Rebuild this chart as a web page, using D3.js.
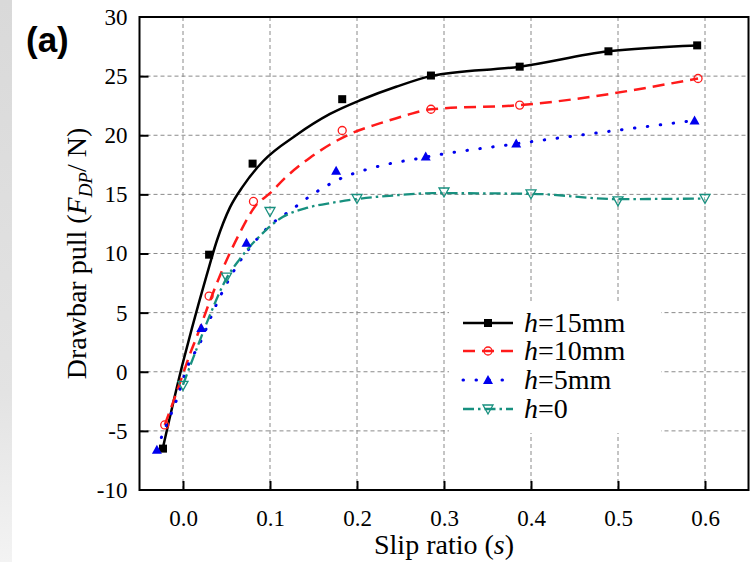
<!DOCTYPE html>
<html>
<head>
<meta charset="utf-8">
<script src="https://cdn.jsdelivr.net/npm/d3@7/dist/d3.min.js"></script>
<style>
  html, body { margin: 0; padding: 0; background: #fff; }
  svg { display: block; }
</style>
</head>
<body>
<svg id="chart" width="756" height="562"></svg>
<script>
// ---------------- data ----------------
const xTicks = [0.0, 0.1, 0.2, 0.3, 0.4, 0.5, 0.6];
const yTicks = [-10, -5, 0, 5, 10, 15, 20, 25, 30];

const seriesNames = ["15mm", "10mm", "5mm", "0"];

// measured points
const slip15 = [-0.023, 0.030, 0.080, 0.183, 0.285, 0.387, 0.489, 0.591];
const pull15 = [-6.5, 9.9, 17.6, 23.05, 25.05, 25.8, 27.1, 27.6];
const slip10 = [-0.021, 0.030, 0.081, 0.183, 0.285, 0.387, 0.592];
const pull10 = [-4.5, 6.4, 14.4, 20.4, 22.2, 22.55, 24.8];
const slip5 = [-0.030, 0.021, 0.073, 0.176, 0.279, 0.383, 0.588];
const pull5 = [-6.6, 3.7, 10.9, 17.0, 18.2, 19.3, 21.25];
const slip0 = [0.000, 0.050, 0.100, 0.200, 0.300, 0.400, 0.500, 0.600];
const pull0 = [-1.15, 8.0, 13.55, 14.65, 15.2, 15.05, 14.45, 14.65];

// fitted curves (traced)
const fitSlip15 = [-0.023, 0.0, 0.010, 0.027, 0.039, 0.054, 0.069, 0.092, 0.130, 0.169, 0.205, 0.245, 0.285, 0.387, 0.489, 0.591];
const fitPull15 = [-6.4, 0.8, 3.6, 8.1, 11.1, 13.9, 15.7, 17.8, 20.0, 21.8, 23.0, 24.1, 25.0, 25.8, 27.1, 27.6];
const fitSlip10 = [-0.021, -0.011, 0.0, 0.008, 0.016, 0.030, 0.044, 0.065, 0.083, 0.100, 0.119, 0.146, 0.171, 0.195, 0.226, 0.257, 0.285, 0.387, 0.592];
const fitPull10 = [-4.5, -2.5, -0.2, 1.5, 3.0, 5.8, 8.4, 11.7, 14.0, 15.1, 16.5, 18.1, 19.3, 20.2, 21.0, 21.7, 22.2, 22.55, 24.8];
const fitSlip5 = [-0.030, -0.024, -0.007, 0.004, 0.020, 0.039, 0.065, 0.077, 0.102, 0.123, 0.151, 0.167, 0.180, 0.211, 0.241, 0.268, 0.290, 0.383, 0.588];
const fitPull5 = [-6.6, -5.4, -2.3, 0.2, 2.5, 5.8, 9.3, 10.5, 12.5, 13.6, 15.1, 15.8, 16.3, 17.1, 17.65, 18.0, 18.3, 19.28, 21.25];
const fitSlip0 = [0.0, 0.016, 0.031, 0.050, 0.065, 0.077, 0.090, 0.100, 0.115, 0.142, 0.1725, 0.199, 0.241, 0.287, 0.400, 0.500, 0.600];
const fitPull0 = [-1.1, 2.0, 4.8, 7.9, 9.5, 10.6, 11.6, 12.3, 13.1, 13.85, 14.3, 14.6, 14.9, 15.1, 15.05, 14.6, 14.65];

// ---------------- layout ----------------
const svg = d3.select("#chart");
const L = 139.5, R = 748.5, T = 17, B = 490;
const x = d3.scaleLinear().domain([-0.05, 0.65]).range([L, R]);
const y = d3.scaleLinear().domain([-10, 30]).range([B, T]);

// left grey gradient strip
const defs = svg.append("defs");
const grad = defs.append("linearGradient").attr("id", "strip").attr("x1", 0).attr("y1", 0).attr("x2", 0).attr("y2", 1);
grad.append("stop").attr("offset", "0%").attr("stop-color", "#d9d9d9");
grad.append("stop").attr("offset", "70%").attr("stop-color", "#e3e3e3");
grad.append("stop").attr("offset", "100%").attr("stop-color", "#f3f3f3");
svg.append("rect").attr("x", 0).attr("y", 0).attr("width", 12).attr("height", 562).attr("fill", "url(#strip)");

// grid
const grid = svg.append("g").attr("stroke", "#8a8a8a").attr("stroke-width", 1).attr("stroke-dasharray", "4,3");
grid.selectAll("line.v").data(xTicks).join("line")
  .attr("x1", d => x(d)).attr("x2", d => x(d)).attr("y1", T).attr("y2", B);
grid.selectAll("line.h").data(yTicks.filter(d => d > -10 && d < 30)).join("line")
  .attr("x1", L).attr("x2", R).attr("y1", d => y(d)).attr("y2", d => y(d));

// series styles
const styles = [
  { color: "#000000", dash: null, width: 2.5, cap: "butt", marker: "square" },
  { color: "#ff1a1a", dash: "12,7", width: 2.5, cap: "butt", marker: "circle" },
  { color: "#0000ee", dash: "0.5,12.5", width: 3, cap: "round", marker: "triangle" },
  { color: "#17907f", dash: "11,4,2.5,4", width: 2.3, cap: "butt", marker: "triangleDown" }
];
const fits = [
  d3.zip(fitSlip15, fitPull15), d3.zip(fitSlip10, fitPull10),
  d3.zip(fitSlip5, fitPull5), d3.zip(fitSlip0, fitPull0)
];
const pts = [
  d3.zip(slip15, pull15), d3.zip(slip10, pull10),
  d3.zip(slip5, pull5), d3.zip(slip0, pull0)
];

const line = d3.line().x(d => x(d[0])).y(d => y(d[1])).curve(d3.curveMonotoneX);
const plot = svg.append("g");
fits.forEach((f, i) => {
  const s = styles[i];
  plot.append("path").attr("d", line(f)).attr("fill", "none")
    .attr("stroke", s.color).attr("stroke-width", s.width)
    .attr("stroke-dasharray", s.dash).attr("stroke-linecap", s.cap);
});

function drawMarker(g, kind, color, cx, cy) {
  if (kind === "square") {
    g.append("rect").attr("x", cx - 4).attr("y", cy - 4).attr("width", 8).attr("height", 8).attr("fill", color);
  } else if (kind === "circle") {
    g.append("circle").attr("cx", cx).attr("cy", cy).attr("r", 4).attr("fill", "none").attr("stroke", color).attr("stroke-width", 1.3);
  } else if (kind === "triangle") {
    g.append("path").attr("d", `M${cx - 5},${cy + 4}L${cx + 5},${cy + 4}L${cx},${cy - 5}Z`).attr("fill", color);
  } else {
    g.append("path").attr("d", `M${cx - 5},${cy - 4}L${cx + 5},${cy - 4}L${cx},${cy + 5}Z`).attr("fill", "none").attr("stroke", color).attr("stroke-width", 1.3);
  }
}
pts.forEach((p, i) => {
  p.forEach(d => drawMarker(plot, styles[i].marker, styles[i].color, x(d[0]), y(d[1])));
});

// legend
const lg = svg.append("g");
lg.append("rect").attr("x", 449).attr("y", 304).attr("width", 212).attr("height", 129).attr("fill", "#fff");
const legY = [323, 351, 380, 409];
styles.forEach((s, i) => {
  const yy = legY[i];
  lg.append("line").attr("x1", 463).attr("x2", 513).attr("y1", yy).attr("y2", yy)
    .attr("stroke", s.color).attr("stroke-width", s.width)
    .attr("stroke-dasharray", s.dash).attr("stroke-linecap", s.cap);
  drawMarker(lg, s.marker, s.color, 488, yy);
  const t = lg.append("text").attr("x", 524).attr("y", yy + 9)
    .attr("font-family", "Liberation Serif, Times New Roman, serif").attr("font-size", 28).attr("fill", "#000");
  t.append("tspan").attr("font-style", "italic").text("h");
  t.append("tspan").text("=" + seriesNames[i]);
});

// axes
const xAxis = d3.axisBottom(x).tickValues(xTicks).tickFormat(d3.format(".1f")).tickSizeInner(-9).tickSizeOuter(0).tickPadding(20);
const yAxis = d3.axisLeft(y).tickValues(yTicks).tickFormat(d => String(d)).tickSizeInner(-9).tickSizeOuter(0).tickPadding(12);
const gx = svg.append("g").attr("transform", `translate(0,${B})`).call(xAxis);
const gy = svg.append("g").attr("transform", `translate(${L},0)`).call(yAxis);
[gx, gy].forEach(g => {
  g.select(".domain").remove();
  g.selectAll(".tick line").attr("stroke", "#000").attr("stroke-width", 2);
  g.selectAll(".tick text").attr("font-family", "Liberation Serif, Times New Roman, serif").attr("font-size", 23).attr("fill", "#000");
});
gy.selectAll(".tick line").filter(d => d === -10 || d === 30).remove();

// frame
svg.append("rect").attr("x", L).attr("y", T).attr("width", R - L).attr("height", B - T)
  .attr("fill", "none").attr("stroke", "#000").attr("stroke-width", 2);

// axis titles
svg.append("text").attr("x", (L + R) / 2).attr("y", 554).attr("text-anchor", "middle")
  .attr("font-family", "Liberation Serif, Times New Roman, serif").attr("font-size", 28)
  .html('Slip ratio (<tspan font-style="italic">s</tspan>)');
const yt = svg.append("text").attr("transform", `translate(86,${(T + B) / 2}) rotate(-90)`).attr("text-anchor", "middle")
  .attr("font-family", "Liberation Serif, Times New Roman, serif").attr("font-size", 28);
yt.append("tspan").text("Drawbar pull (");
yt.append("tspan").attr("font-style", "italic").text("F");
yt.append("tspan").attr("font-style", "italic").attr("font-size", 19).attr("dy", 6).text("DP");
yt.append("tspan").attr("dy", -6).text("/ N)");

// panel label
svg.append("text").attr("x", 26).attr("y", 52)
  .attr("font-family", "Liberation Sans, Arial, sans-serif").attr("font-weight", "bold").attr("font-size", 35)
  .text("(a)");
</script>
</body>
</html>
